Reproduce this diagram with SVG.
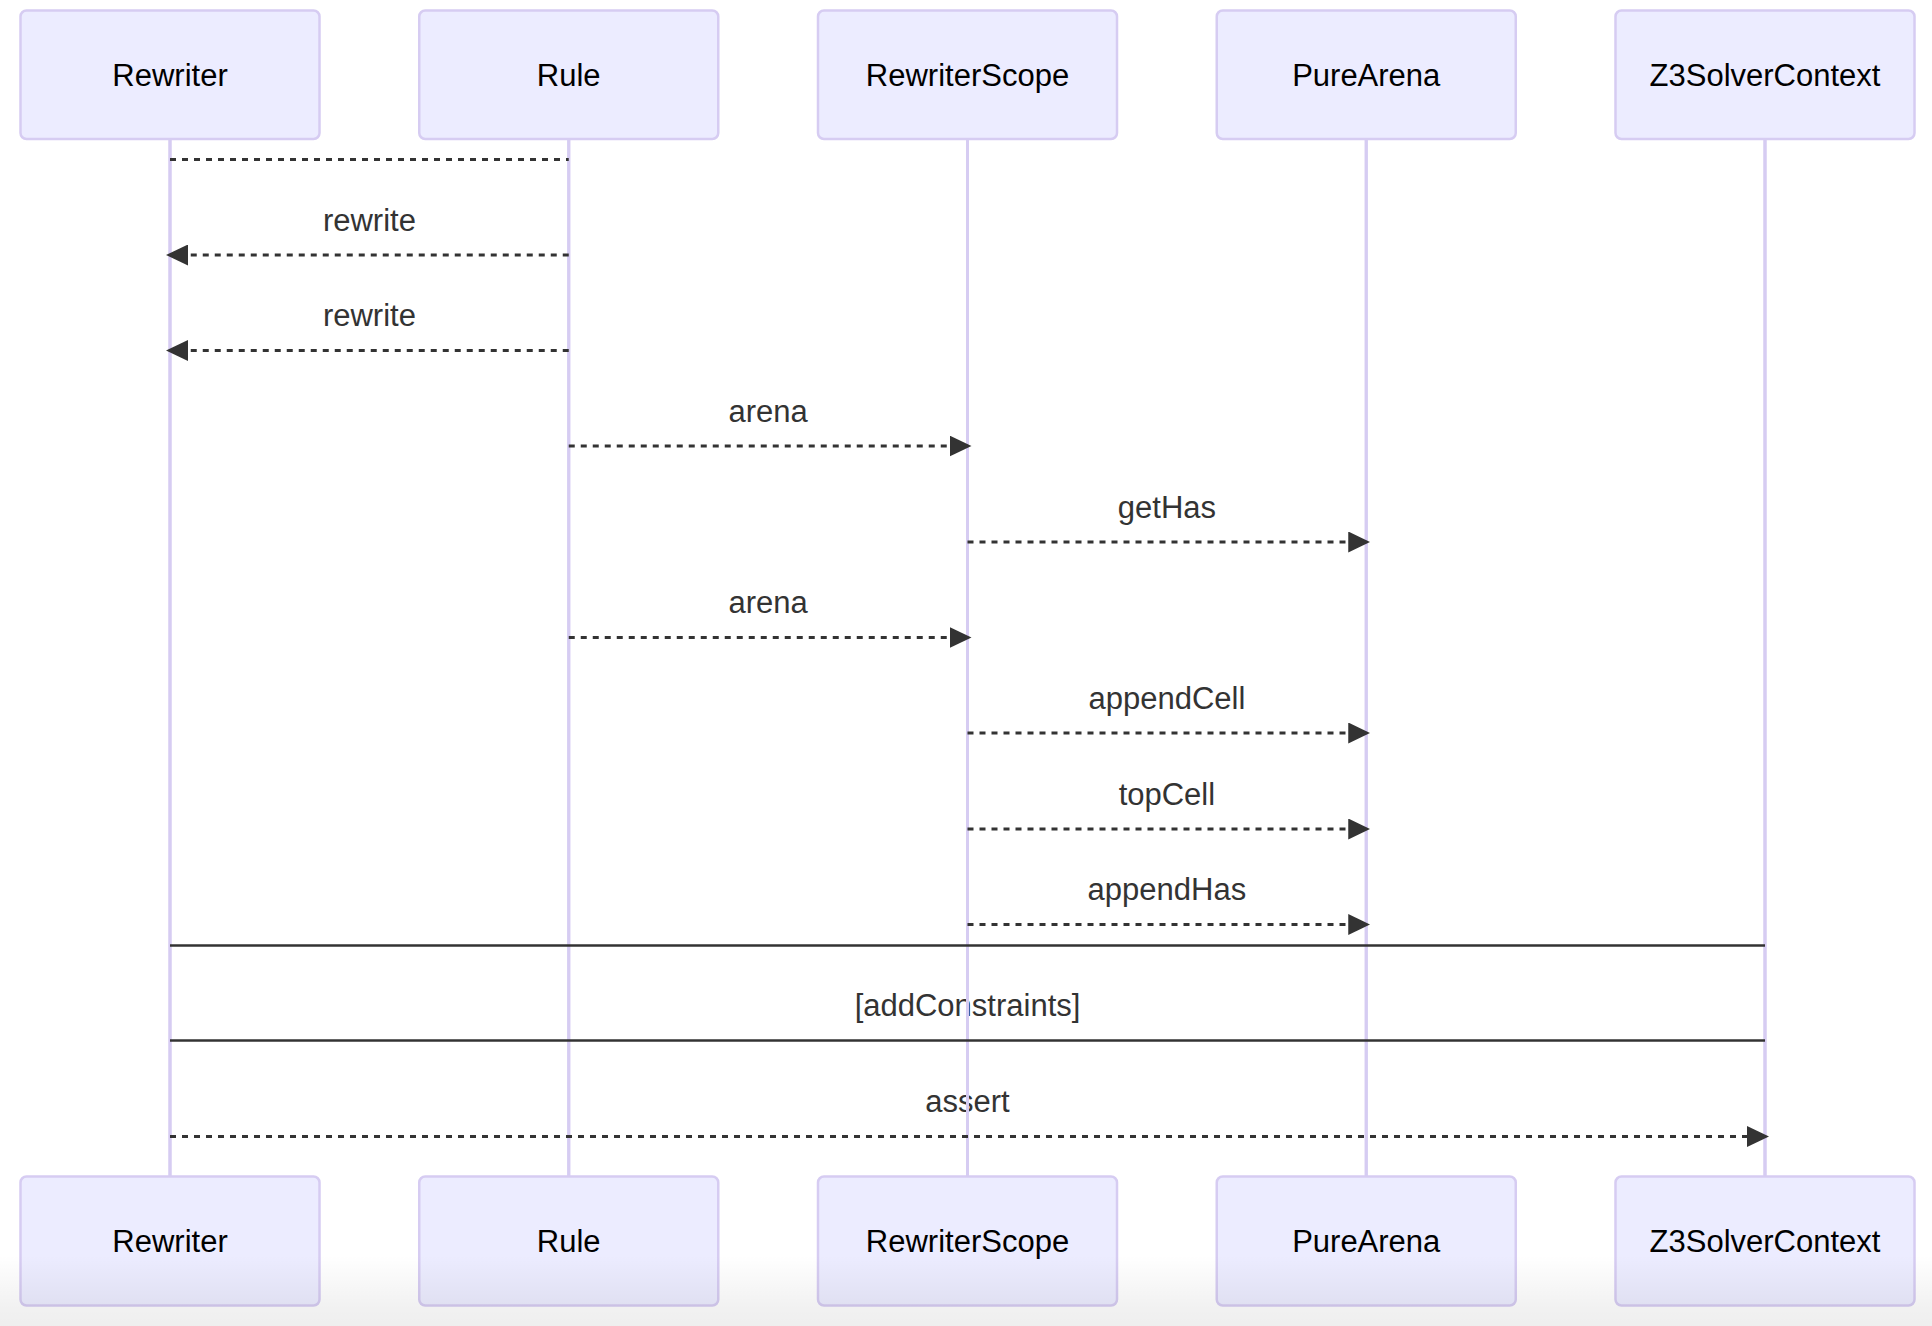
<svg xmlns="http://www.w3.org/2000/svg" width="1932" height="1326" viewBox="0 0 1932 1326">
<style>
.actor{fill:#ECECFF;stroke:#D6CCF2;stroke-width:2.5}
.atext{font-family:"Liberation Sans",Arial,sans-serif;font-size:31px;fill:#000;text-anchor:middle;dominant-baseline:central}
.life{stroke:#D6CCF2;stroke-width:3;fill:none}
.msg{stroke:#333;stroke-width:3;stroke-dasharray:6,6;fill:none}
.solid{stroke:#333;stroke-width:2.6;fill:none}
.mtext{font-family:"Liberation Sans",Arial,sans-serif;font-size:31px;fill:#333;text-anchor:middle;dominant-baseline:central}
</style>
<defs>
<marker id="ah" viewBox="0 0 22 21" refX="18" refY="10.5" markerWidth="22" markerHeight="21" markerUnits="userSpaceOnUse" orient="auto">
<path d="M0,0 L22,10.5 L0,21 Z" fill="#333"/>
</marker>
<linearGradient id="fade" x1="0" y1="0" x2="0" y2="1">
<stop offset="0" stop-color="#000" stop-opacity="0"/>
<stop offset="0.75" stop-color="#000" stop-opacity="0.055"/>
<stop offset="1" stop-color="#000" stop-opacity="0.065"/>
</linearGradient>
</defs>
<rect width="1932" height="1326" fill="#fff"/>
<g id="lifelines">
<line class="life" x1="170" y1="139" x2="170" y2="1176"/>
<line class="life" x1="568.75" y1="139" x2="568.75" y2="1176"/>
<line class="life" x1="967.5" y1="139" x2="967.5" y2="1176"/>
<line class="life" x1="1366.25" y1="139" x2="1366.25" y2="1176"/>
<line class="life" x1="1765" y1="139" x2="1765" y2="1176"/>
</g>
<g id="texts">
<text class="mtext" x="369.4" y="220">rewrite</text>
<text class="mtext" x="369.4" y="315">rewrite</text>
<text class="mtext" x="768.1" y="411">arena</text>
<text class="mtext" x="1166.9" y="507">getHas</text>
<text class="mtext" x="768.1" y="602">arena</text>
<text class="mtext" x="1166.9" y="698">appendCell</text>
<text class="mtext" x="1166.9" y="794">topCell</text>
<text class="mtext" x="1166.9" y="889">appendHas</text>
<text class="mtext" x="967.5" y="1005">[addConstraints]</text>
<text class="mtext" x="967.5" y="1101">assert</text>
</g>
<g id="lifelines-front">
<line class="life" x1="170" y1="139" x2="170" y2="1176"/>
<line class="life" x1="568.75" y1="139" x2="568.75" y2="1176"/>
<line class="life" x1="967.5" y1="139" x2="967.5" y2="1176"/>
<line class="life" x1="1366.25" y1="139" x2="1366.25" y2="1176"/>
<line class="life" x1="1765" y1="139" x2="1765" y2="1176"/>
</g>
<g id="connectors">
<line class="msg" x1="170" y1="159.5" x2="568.75" y2="159.5"/>
<line class="msg" x1="568.75" y1="255" x2="170" y2="255" marker-end="url(#ah)"/>
<line class="msg" x1="568.75" y1="350.5" x2="170" y2="350.5" marker-end="url(#ah)"/>
<line class="msg" x1="568.75" y1="446" x2="967.5" y2="446" marker-end="url(#ah)"/>
<line class="msg" x1="967.5" y1="542" x2="1366.25" y2="542" marker-end="url(#ah)"/>
<line class="msg" x1="568.75" y1="637.5" x2="967.5" y2="637.5" marker-end="url(#ah)"/>
<line class="msg" x1="967.5" y1="733" x2="1366.25" y2="733" marker-end="url(#ah)"/>
<line class="msg" x1="967.5" y1="829" x2="1366.25" y2="829" marker-end="url(#ah)"/>
<line class="msg" x1="967.5" y1="924.5" x2="1366.25" y2="924.5" marker-end="url(#ah)"/>
<line class="solid" x1="170" y1="945.5" x2="1765" y2="945.5"/>
<line class="solid" x1="170" y1="1040.5" x2="1765" y2="1040.5"/>
<line class="msg" x1="170" y1="1136.5" x2="1765" y2="1136.5" marker-end="url(#ah)"/>
</g>
<g id="actor-Rewriter">
<rect class="actor" x="20.5" y="10.5" width="299" height="128.5" rx="6"/>
<text class="atext" x="170" y="75">Rewriter</text>
<rect class="actor" x="20.5" y="1176.5" width="299" height="129" rx="6"/>
<text class="atext" x="170" y="1241">Rewriter</text>
</g>
<g id="actor-Rule">
<rect class="actor" x="419.25" y="10.5" width="299" height="128.5" rx="6"/>
<text class="atext" x="568.75" y="75">Rule</text>
<rect class="actor" x="419.25" y="1176.5" width="299" height="129" rx="6"/>
<text class="atext" x="568.75" y="1241">Rule</text>
</g>
<g id="actor-RewriterScope">
<rect class="actor" x="818" y="10.5" width="299" height="128.5" rx="6"/>
<text class="atext" x="967.5" y="75">RewriterScope</text>
<rect class="actor" x="818" y="1176.5" width="299" height="129" rx="6"/>
<text class="atext" x="967.5" y="1241">RewriterScope</text>
</g>
<g id="actor-PureArena">
<rect class="actor" x="1216.75" y="10.5" width="299" height="128.5" rx="6"/>
<text class="atext" x="1366.25" y="75">PureArena</text>
<rect class="actor" x="1216.75" y="1176.5" width="299" height="129" rx="6"/>
<text class="atext" x="1366.25" y="1241">PureArena</text>
</g>
<g id="actor-Z3SolverContext">
<rect class="actor" x="1615.5" y="10.5" width="299" height="128.5" rx="6"/>
<text class="atext" x="1765" y="75">Z3SolverContext</text>
<rect class="actor" x="1615.5" y="1176.5" width="299" height="129" rx="6"/>
<text class="atext" x="1765" y="1241">Z3SolverContext</text>
</g>
<rect x="0" y="1255" width="1932" height="71" fill="url(#fade)"/>
</svg>
